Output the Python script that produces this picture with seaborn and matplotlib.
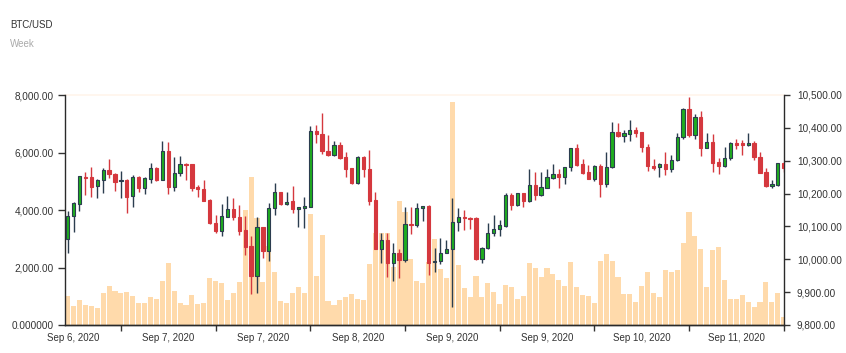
import numpy as np
import pandas as pd
import matplotlib
matplotlib.use("Agg")
import matplotlib.pyplot as plt
import seaborn as sns

open_ = [10061, 10132, 10168, 10250, 10250, 10223, 10241, 10272, 10261, 10238,
         10241, 10193, 10250, 10216, 10244, 10277, 10241, 10331, 10219, 10262,
         10290, 10290, 10221, 10215, 10180, 10111, 10087, 10130, 10152, 10130,
         10089, 10040, 9949, 10097, 10026, 10155, 10204, 10168, 10177, 10152,
         10156, 10160, 10391, 10380, 10331, 10316, 10348, 10310, 10278, 10231,
         10312, 10276, 10180, 10031, 10059, 9988, 10018, 9998, 10107, 10104,
         10155, 10162, 9992, 9996, 10020, 10030, 10112, 10130, 10127, 10127,
         10000, 10033, 10079, 10092, 10101, 10196, 10165, 10201, 10178, 10227,
         10195, 10218, 10246, 10259,
         10249, 10280, 10339, 10290, 10266, 10245, 10284, 10229, 10280, 10388,
         10375, 10382, 10393, 10388, 10343, 10285, 10280, 10290, 10274, 10302,
         10373, 10456, 10378, 10434, 10338, 10356, 10295, 10285, 10307, 10355,
         10355, 10347, 10355, 10312, 10266, 10223, 10226, 10292]
close = [10132, 10172, 10252, 10246, 10221, 10241, 10272, 10260, 10236, 10240,
         10191, 10250, 10218, 10246, 10277, 10241, 10331, 10219, 10262, 10290,
         10286, 10216, 10213, 10178, 10109, 10087, 10132, 10152, 10128, 10087,
         10038, 9949, 10097, 10026, 10155, 10204, 10168, 10175, 10152, 10158,
         10162, 10391, 10380, 10330, 10316, 10348, 10309, 10276, 10231, 10312,
         10274, 10178, 10030, 10059, 9988, 10018, 9998, 10107, 10103, 10157,
         10162, 9990, 9996, 10020, 10030, 10112, 10130, 10125, 10124, 10000,
         10033, 10081, 10093, 10103, 10196, 10165, 10201, 10178, 10227, 10195,
         10219, 10249, 10259, 10249,
         10280, 10339, 10287, 10262, 10245, 10284, 10229, 10280, 10388, 10375,
         10383, 10393, 10385, 10341, 10284, 10279, 10290, 10274, 10302, 10373,
         10456, 10378, 10434, 10338, 10356, 10294, 10285, 10307, 10355, 10348,
         10347, 10355, 10312, 10264, 10223, 10229, 10292, 10277]
high = [10148, 10175, 10254, 10267, 10282, 10244, 10277, 10304, 10264, 10270,
        10244, 10256, 10254, 10249, 10292, 10282, 10361, 10357, 10310, 10314,
        10294, 10290, 10227, 10241, 10182, 10135, 10168, 10193, 10185, 10165,
        10132, 10071, 10130, 10099, 10170, 10233, 10206, 10206, 10223, 10158,
        10191, 10406, 10409, 10444, 10378, 10360, 10357, 10327, 10278, 10314,
        10314, 10333, 10206, 10079, 10081, 10051, 10030, 10160, 10158, 10172,
        10162, 10164, 10033, 10064, 10059, 10188, 10157, 10150, 10130, 10130,
        10036, 10109, 10135, 10120, 10201, 10203, 10203, 10203, 10274, 10265,
        10266, 10274, 10290, 10274,
        10280, 10339, 10351, 10304, 10286, 10286, 10290, 10328, 10419, 10416,
        10393, 10423, 10403, 10388, 10351, 10304, 10292, 10328, 10317, 10383,
        10459, 10495, 10442, 10451, 10383, 10380, 10307, 10343, 10358, 10367,
        10363, 10383, 10360, 10325, 10279, 10241, 10292, 10297]
low = [10020, 10084, 10148, 10196, 10191, 10186, 10203, 10246, 10209, 10186,
       10142, 10158, 10206, 10198, 10233, 10239, 10241, 10198, 10207, 10253,
       10241, 10209, 10191, 10176, 10107, 10079, 10071, 10128, 10120, 10074,
       10013, 9894, 9898, 10003, 9996, 10135, 10164, 10165, 10140, 10097,
       10096, 10160, 10353, 10320, 10314, 10314, 10306, 10249, 10229, 10229,
       10251, 10165, 10030, 9988, 9947, 9933, 9942, 9993, 10077, 10099,
       10118, 9952, 9962, 9986, 10018, 9856, 10087, 10089, 10091, 9998,
       9990, 10030, 10071, 10071, 10099, 10150, 10162, 10158, 10175, 10180,
       10193, 10216, 10243, 10216,
       10229, 10270, 10284, 10260, 10243, 10239, 10190, 10221, 10277, 10371,
       10358, 10360, 10373, 10328, 10270, 10271, 10251, 10257, 10267, 10300,
       10365, 10373, 10365, 10314, 10338, 10267, 10259, 10282, 10302, 10335,
       10317, 10345, 10302, 10262, 10221, 10216, 10224, 10267]
volume = [1000, 660, 870, 700, 670, 600, 1100, 1360, 1190, 1100,
          1150, 1010, 780, 765, 970, 900, 1540, 2170, 1190, 780,
          710, 1050, 740, 750, 1630, 1540, 1450, 880, 1120, 1510,
          4000, 5160, 3730, 1480, 2760, 1850, 830, 750, 1120, 1310,
          1125, 3860, 1720, 3130, 835, 700, 870, 975, 1080, 895,
          870, 2120, 3190, 3210, 3190, 2030, 4320, 3930, 2280, 1540,
          1450, 2180, 2980, 1950, 1650, 7770, 2090, 1300, 985, 1720,
          985, 1470, 1150, 720, 1390, 1330, 915, 1010, 2170, 1970,
          1680, 1970, 1770, 1565,
          1357, 2203, 1333, 1043, 1009, 777, 2238, 2470, 2226, 1681,
          1090, 1090, 812, 1357, 1832, 1125, 962, 1913, 1855, 1913,
          2864, 3930, 3107, 2655, 1333, 2609, 2701, 1565, 904, 904,
          1032, 800, 626, 800, 1507, 812, 1101, 290]

date_labels = ["Sep 6, 2020", "Sep 7, 2020", "Sep 7, 2020", "Sep 8, 2020",
               "Sep 9, 2020", "Sep 9, 2020", "Sep 10, 2020", "Sep 11, 2020"]
vol_ticks = [0, 2000, 4000, 6000, 8000]
vol_labels = ["0.000000", "2,000.00", "4,000.00", "6,000.00", "8,000.00"]
price_ticks = [9800, 9900, 10000, 10100, 10200, 10300, 10400, 10500]

df = pd.DataFrame({"open": open_, "high": high, "low": low,
                   "close": close, "volume": volume})
df["i"] = np.arange(len(df))

sns.set_theme(style="ticks")
plt.rcParams['font.family'] = ['Liberation Sans', 'DejaVu Sans']

fig = plt.figure(figsize=(8.46, 3.53), dpi=100)
ax = fig.add_axes([65 / 846, 28 / 353, 719.3 / 846, 230 / 353])

# volume bars on the left axis
sns.barplot(data=df, x="i", y="volume", ax=ax, color="#ffdaab",
            saturation=1, width=0.86, linewidth=0)
ax.set_ylim(0, 8000)
ax.set_xlabel("")
ax.set_ylabel("")

# candles on the right axis
ax2 = ax.twinx()
up = df["close"] >= df["open"]
fill = np.where(up, "#1fae1f", "#d5383e")
edge = np.where(up, "#2b3d4f", "#d5383e")
ax2.vlines(df["i"], df["low"], df["high"], colors=edge, linewidth=1, zorder=2)
body = np.maximum((df["close"] - df["open"]).abs(), 2)
ax2.bar(df["i"], body, bottom=np.minimum(df["open"], df["close"]),
        width=0.55, color=fill, edgecolor=edge, linewidth=0.8, zorder=3)
ax2.set_ylim(9800, 10500)

ax.set_xlim(-0.45, 121.1)
n_lab = len(date_labels)
ax.set_xticks([9 + 16 * k for k in range(n_lab)])
ax.set_xticklabels([])
ax.set_xticks([1 + 16 * k for k in range(n_lab)], minor=True)
ax.set_xticklabels(date_labels, minor=True)
ax.tick_params(axis="x", which="major", length=4, width=1, color="#333333")
ax.tick_params(axis="x", which="minor", length=0, pad=6, labelsize=7,
               labelcolor="#333333")

ax.set_yticks(vol_ticks)
ax.set_yticklabels(vol_labels)
ax.tick_params(axis="y", length=5, width=1, pad=3, labelsize=7.2,
               color="#333333", labelcolor="#333333")

ax2.set_yticks(price_ticks)
ax2.set_yticklabels([f"{v:,.2f}" for v in price_ticks])
ax2.tick_params(axis="y", length=4, width=1, pad=5, labelsize=7.2,
                color="#333333", labelcolor="#333333")

for a in (ax, ax2):
    for s in a.spines.values():
        s.set_color("#2a2a2a")
        s.set_linewidth(1)
ax.spines["top"].set_visible(False)
ax.spines["right"].set_visible(False)
ax2.spines["top"].set_visible(False)
ax2.spines["left"].set_visible(False)
ax.axhline(8000, color="#fff5eb", linewidth=1.2, clip_on=False, zorder=0)

fig.text(10 / 846, 1 - 25 / 353, "BTC/USD", fontsize=7, color="#333333",
         va="center")
fig.text(10 / 846, 1 - 44 / 353, "Week", fontsize=7, color="#aaaaaa",
         va="center")

fig.savefig("out.png", dpi=100)
